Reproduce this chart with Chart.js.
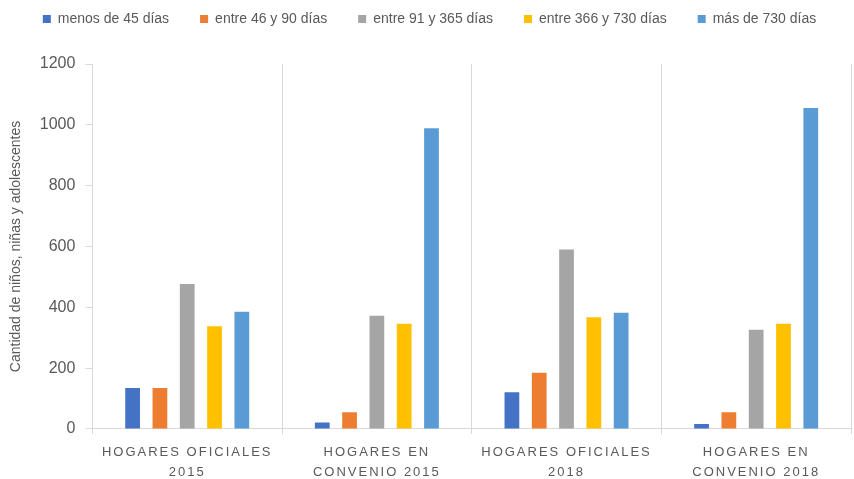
<!DOCTYPE html>
<html>
<head>
<meta charset="utf-8">
<script src="https://cdn.jsdelivr.net/npm/chart.js@4"></script>
<style>
  html, body { margin: 0; padding: 0; background: #fff; }
  #wrap { position: relative; width: 854px; height: 479px; }
</style>
</head>
<body>
<div id="wrap"><canvas id="chart"></canvas></div>
<script>
// data
const categories = [
  ["HOGARES OFICIALES", "2015"],
  ["HOGARES EN", "CONVENIO 2015"],
  ["HOGARES OFICIALES", "2018"],
  ["HOGARES EN", "CONVENIO 2018"]
];
const seriesNames = [
  "menos de 45 días",
  "entre 46 y 90 días",
  "entre 91 y 365 días",
  "entre 366 y 730 días",
  "más de 730 días"
];
const menos45 = [135, 21, 121, 16];
const entre46y90 = [135, 55, 185, 55];
const entre91y365 = [477, 372, 590, 326];
const entre366y730 = [338, 346, 367, 346];
const mas730 = [385, 989, 382, 1055];
const colors = ["#4472C4", "#ED7D31", "#A5A5A5", "#FFC000", "#5B9BD5"];

const allSeries = [menos45, entre46y90, entre91y365, entre366y730, mas730];
const textColor = "#595959";
const gridColor = "#d9d9d9";

// letter spacing on the category labels, extra room under the legend
const tweaks = {
  id: "tweaks",
  beforeInit(chart) {
    const legend = chart.legend;
    if (legend) {
      const fit = legend.fit;
      legend.fit = function () {
        fit.call(this);
        this.height += 28;
      };
    }
  },
  beforeDraw(chart) {
    const x = chart.scales.x;
    if (x._wrapped) return;
    const orig = x.drawLabels.bind(x);
    x.drawLabels = function (area) {
      const ctx = this.ctx;
      ctx.save();
      ctx.letterSpacing = "2px";
      orig(area);
      ctx.restore();
    };
    x._wrapped = true;
  }
};

new Chart(document.getElementById("chart"), {
  type: "bar",
  data: {
    labels: categories,
    datasets: allSeries.map((vals, i) => ({
      label: seriesNames[i],
      data: vals,
      backgroundColor: colors[i],
      categoryPercentage: 0.72,
      barPercentage: 0.54
    }))
  },
  options: {
    responsive: true,
    maintainAspectRatio: false,
    animation: false,
    layout: { padding: { top: -19, right: 3, left: 8, bottom: -11 } },
    plugins: {
      tooltip: { enabled: false },
      legend: {
        position: "top",
        labels: {
          boxWidth: 8,
          boxHeight: 8,
          padding: 31,
          color: textColor,
          font: { family: "'Liberation Sans', sans-serif", size: 14 }
        }
      }
    },
    scales: {
      x: {
        offset: true,
        grid: {
          offset: true,
          color: gridColor,
          drawTicks: true,
          tickLength: 5
        },
        border: { color: gridColor },
        ticks: {
          color: textColor,
          maxRotation: 0,
          autoSkip: false,
          padding: 8,
          font: { family: "'Liberation Sans', sans-serif", size: 13, lineHeight: 1.54 }
        }
      },
      y: {
        min: 0,
        max: 1200,
        ticks: {
          stepSize: 200,
          color: textColor,
          padding: 10,
          callback: (v) => String(v),
          font: { family: "'Liberation Sans', sans-serif", size: 16 }
        },
        grid: {
          drawOnChartArea: false,
          drawTicks: true,
          tickLength: 7,
          color: gridColor
        },
        border: { color: gridColor },
        title: {
          display: true,
          text: "Cantidad de niños, niñas y adolescentes",
          color: textColor,
          padding: { top: 0, bottom: 5 },
          font: { family: "'Liberation Sans', sans-serif", size: 14 }
        }
      }
    }
  },
  plugins: [tweaks]
});
</script>
</body>
</html>
